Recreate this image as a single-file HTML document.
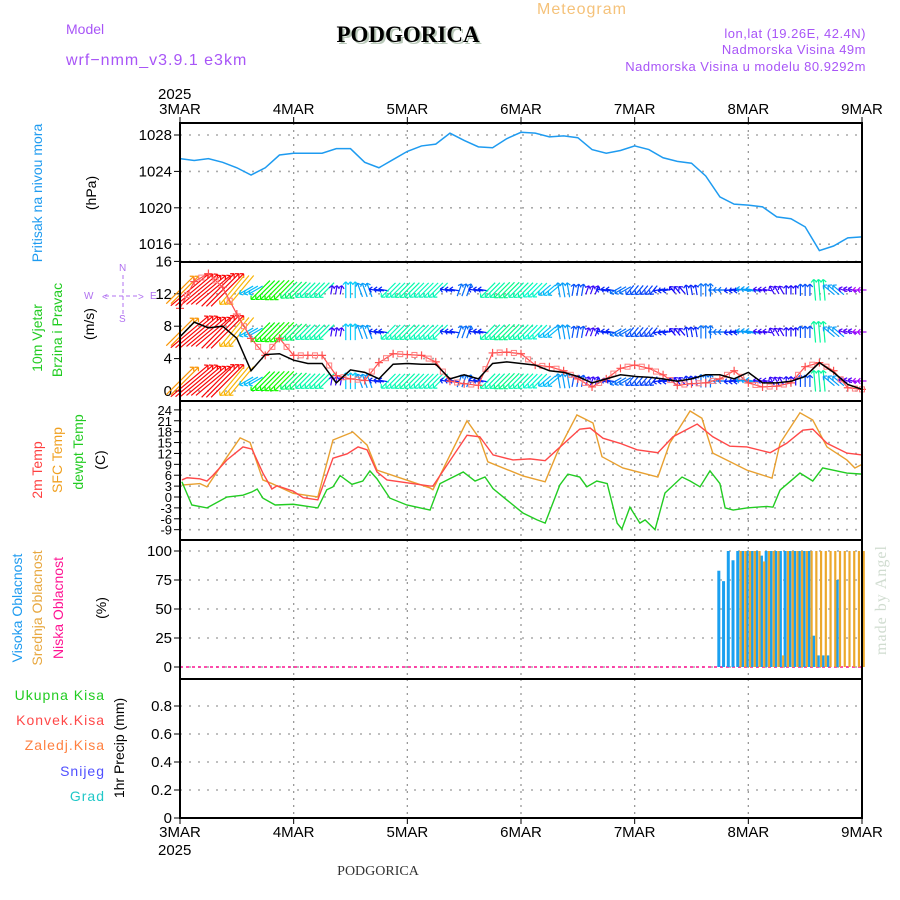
<!DOCTYPE html>
<html><head><meta charset="utf-8"><style>
html,body{margin:0;padding:0;background:#fff;width:900px;height:900px;overflow:hidden}
svg{display:block}
text{font-family:"Liberation Sans",sans-serif}
text.serif{font-family:"Liberation Serif",serif}
</style></head><body>
<svg id="chart" width="900" height="900" viewBox="0 0 900 900" xmlns="http://www.w3.org/2000/svg">
<g>
<text x="582" y="14" font-size="16" fill="#f5c27a" text-anchor="middle" letter-spacing="1">Meteogram</text>
<text x="66" y="34" font-size="14" fill="#a855f7">Model</text>
<text x="66" y="65" font-size="16" fill="#a855f7" letter-spacing="1">wrf−nmm_v3.9.1  e3km</text>
<text class="serif" x="410" y="44" font-size="23" font-weight="bold" fill="#b8c8b8" text-anchor="middle">PODGORICA</text>
<text class="serif" x="408" y="42" font-size="23" font-weight="bold" fill="#000" text-anchor="middle">PODGORICA</text>
<text x="866" y="38" font-size="13" fill="#a855f7" text-anchor="end" letter-spacing="0.5">lon,lat (19.26E, 42.4N)</text>
<text x="866" y="54" font-size="13" fill="#a855f7" text-anchor="end" letter-spacing="0.5">Nadmorska Visina 49m</text>
<text x="866" y="71" font-size="13" fill="#a855f7" text-anchor="end" letter-spacing="0.5">Nadmorska Visina u modelu 80.9292m</text>
<text class="serif" x="378" y="875" font-size="14" fill="#333" text-anchor="middle">PODGORICA</text>
<text class="serif" transform="translate(886,600) rotate(-90)" font-size="16" fill="#d0dcd0" text-anchor="middle" letter-spacing="1">made by Angel</text>
</g>
<g font-size="14">
<text transform="translate(42,193) rotate(-90)" fill="#1e9bf0" text-anchor="middle">Pritisak na nivou mora</text>
<text transform="translate(96,193) rotate(-90)" fill="#000" text-anchor="middle">(hPa)</text>
<text transform="translate(42,338) rotate(-90)" fill="#22cc22" text-anchor="middle">10m Vjetar</text>
<text transform="translate(62,330) rotate(-90)" fill="#22cc22" text-anchor="middle">Brzina i Pravac</text>
<text transform="translate(94,324) rotate(-90)" fill="#000" text-anchor="middle">(m/s)</text>
<g fill="#b070f0" stroke="#b070f0" font-size="10">
<line x1="105" y1="296" x2="140" y2="296" stroke-dasharray="4,3"/>
<line x1="123" y1="275" x2="123" y2="316" stroke-dasharray="4,3"/>
<text x="119" y="271" stroke="none">N</text><text x="119" y="322" stroke="none">S</text>
<text x="84" y="299" stroke="none">W</text><text x="150" y="299" stroke="none">E</text>
<text x="102" y="300" stroke="none">&lt;</text><text x="138" y="300" stroke="none">&gt;</text>
</g>
<text transform="translate(42,470) rotate(-90)" fill="#ff4040" text-anchor="middle">2m Temp</text>
<text transform="translate(62,460) rotate(-90)" fill="#f0a020" text-anchor="middle">SFC Temp</text>
<text transform="translate(83,452) rotate(-90)" fill="#22cc22" text-anchor="middle">dewpt Temp</text>
<text transform="translate(105,460) rotate(-90)" fill="#000" text-anchor="middle">(C)</text>
<text transform="translate(22,608) rotate(-90)" fill="#1e9bf0" text-anchor="middle">Visoka Oblacnost</text>
<text transform="translate(42,608) rotate(-90)" fill="#e8a840" text-anchor="middle">Srednja Oblacnost</text>
<text transform="translate(63,608) rotate(-90)" fill="#ff1493" text-anchor="middle">Niska Oblacnost</text>
<text transform="translate(106,608) rotate(-90)" fill="#000" text-anchor="middle">(%)</text>
<text x="105" y="700" fill="#22cc22" text-anchor="end" letter-spacing="1">Ukupna  Kisa</text>
<text x="105" y="725" fill="#ff4848" text-anchor="end" letter-spacing="1">Konvek.Kisa</text>
<text x="105" y="750" fill="#ff8040" text-anchor="end" letter-spacing="1">Zaledj.Kisa</text>
<text x="105" y="776" fill="#5050ff" text-anchor="end" letter-spacing="1">Snijeg</text>
<text x="105" y="801" fill="#20c8c8" text-anchor="end" letter-spacing="1">Grad</text>
<text transform="translate(124,748) rotate(-90)" fill="#000" text-anchor="middle">1hr Precip (mm)</text>
</g>
<g id="plot"></g>
</svg>
<script>
// ---- data ----
const dayLabels = ["3MAR","4MAR","5MAR","6MAR","7MAR","8MAR","9MAR"];
const pressure = [1025.4,1025.2,1025.4,1025.0,1024.4,1023.6,1024.4,1025.8,
 1026.0,1026.0,1026.0,1026.5,1026.5,1025.0,1024.4,1025.3,
 1026.2,1026.8,1027.0,1028.2,1027.4,1026.7,1026.6,1027.6,
 1028.3,1028.2,1027.8,1027.9,1027.7,1026.4,1026.0,1026.3,
 1026.8,1026.4,1025.5,1025.1,1024.9,1023.5,1021.2,1020.4,
 1020.3,1020.1,1019.0,1018.8,1017.9,1015.3,1015.8,1016.7,1016.8];
const windSpeed = [6.7,8.5,7.8,8.0,6.5,2.5,4.5,4.6,3.8,3.4,3.4,1.0,2.6,2.3,1.5,3.3,3.4,3.3,3.3,1.5,2.0,1.5,3.4,3.6,3.4,3.2,2.5,2.3,1.8,1.0,1.5,2.0,1.8,1.7,1.5,1.2,1.5,2.0,2.0,1.5,2.3,1.0,1.0,1.2,1.8,3.5,2.3,0.8,0.2];
const windGust = [10.2,13.5,14.5,12.8,9.5,6.5,4.4,6.5,4.4,4.4,4.4,1.9,1.5,1.3,3.5,4.6,4.5,4.4,3.6,1.2,0.9,0.7,4.7,4.8,4.6,3.2,3.0,2.5,1.5,0.5,1.5,2.8,3.2,2.8,2.0,0.7,0.9,1.0,1.5,2.5,1.0,0.5,0.6,1.0,3.0,3.5,2.5,0.4,0.2];
const windDir = [225,230,230,225,40,60,45,45,45,45,45,190,180,160,100,45,45,45,45,100,200,100,45,45,45,45,50,170,190,200,100,60,40,40,80,140,170,180,90,80,100,100,150,180,180,175,130,110,90];
const t2mHours = [0.4,1.5,4.2,5.7,6.9,9.9,13.3,15.2,17.5,19.4,20.5,23.9,26,29.1,32.3,35.3,37.6,39.5,41.6,43.7,52.8,53.4,60.6,63.3,66.1,70.3,73.9,77.1,79.6,84.4,86.6,89.3,92.9,96.5,100.9,104.1,109.2,112.5,116.1,119.7,124.6,128.1,131.5,133.6,136.6,140.8,144];
const t2m = [4.7,5.3,5,4.4,5.9,10.2,13.8,13.2,6.6,2.2,3.1,1.6,-0.2,-0.8,10.7,11.9,13.8,13,6.9,4.7,3,3,17,16.6,11.6,10.2,10.5,10,13,18.7,19,16.2,14.8,13,12.2,16.6,20.1,16.6,14,13.8,12.2,14.8,18.4,18.7,14.8,12.1,11.6];
const sfcHours = [0.4,4.2,5.7,9.9,12.7,14.8,17.5,19.4,23.9,29.1,32.3,36.5,39.5,41.6,52.8,53.4,60.6,63.3,65,72.4,77.1,79.6,83.8,87.2,89.1,93.5,100.9,103.4,107.7,110.2,112.5,119.7,125,126.7,130.9,133.6,136.6,140.8,142.5,144];
const sfcTemp = [3.3,3.7,2.8,11,16.3,15,4.7,3.7,1,0,15.7,17.9,14.3,7.4,2.5,2,21,16,9.7,5.8,4.2,12.1,22.6,20.4,11.1,8,5.5,14.8,23.7,21.7,12.1,7.4,5.2,14.8,23.2,21.2,13.8,10.2,8,9];
const dewHours = [0.4,2.5,5.7,9.9,13.3,15.2,16.3,17.5,20.1,23.9,29.1,31,32.3,33.8,36.3,38.6,40.1,41.6,44.3,47.9,52.8,54.9,59.8,62.3,64.4,66.1,69,72.4,75.4,77.1,80.2,81.9,84.4,85.9,88,90.2,92.3,93.3,95,97.1,98.2,100.3,102.4,106,107.7,109.8,111.9,114,115.1,116.8,119.7,123.9,125.2,126.7,130.9,133.6,135.7,140.8,144];
const dewTemp = [4.2,-2.2,-3,0,0.5,1.4,2.2,-0.3,-2.2,-2,-3,2,2.8,5.9,3.5,4.4,7.2,5,-0.3,-2.2,-3.6,3.7,6.9,4.4,5.5,2.3,-0.8,-4.4,-6.3,-7.2,3.3,6.3,5.5,2.8,4.4,3.7,-7.2,-8.8,-2.8,-7.2,-6.3,-9,1.1,5.5,4.4,2.8,7.2,3.7,-3,-3.6,-3,-2.6,-2.8,1.9,6.6,4.4,8,6.6,6.3];
const cloudStartHour = 113;
const highCloud = [0,83,74,100,92,100,100,100,100,100,96,100,100,100,100,100,100,100,100,100,100,27,10,10,10,0,75,0,0,0,0,0];
const midCloud  = [0,0,0,0,0,100,100,100,100,100,91,100,100,100,10,100,100,100,100,100,100,100,100,100,100,100,100,100,100,100,100,100];
const pTicks = [1016,1020,1024,1028];
const wTicks = [0,4,8,12,16];
const tTicks = [-9,-6,-3,0,3,6,9,12,15,18,21,24];
const cTicks = [0,25,50,75,100];
const rTicks = [0,0.2,0.4,0.6,0.8];

// ---- scales ----
const X0=180, X1=862;
const xH = h => X0 + h*(X1-X0)/144;
const yP = v => 135 + (1028-v)*9.1;
const yW = v => 391 - v*8.1;
const yT = v => 497 - v*3.63;
const yC = v => 667 - v*1.16;
const yR = v => 818 - v*140;
const panels = [[123,262,'pressure-panel'],[262,401,'wind-panel'],[401,540,'temp-panel'],[540,679,'cloud-panel'],[679,818,'precip-panel']];

const NS="http://www.w3.org/2000/svg";
const plot=document.getElementById('plot');
function mk(tag,attrs,parent){const e=document.createElementNS(NS,tag);for(const k in attrs)e.setAttribute(k,attrs[k]);(parent||plot).appendChild(e);return e;}

// grids
panels.forEach(p=>{
  const g=mk('g',{});
  
  
  for(let d=1;d<6;d++){mk('line',{x1:xH(d*24),x2:xH(d*24),y1:p[0],y2:p[1],stroke:'#999','stroke-dasharray':'2,5','stroke-width':1.3},g);}
});
function hgrid(ticks,sc,fmt,name){
  const g=mk('g',{});
  
  
  ticks.forEach(t=>{
    const y=sc(t);
    mk('line',{x1:X0,x2:X1,y1:y,y2:y,stroke:'#aaa','stroke-dasharray':'2,7','stroke-width':1.6},g);
    mk('line',{x1:X0-6,x2:X0,y1:y,y2:y,stroke:'#000','stroke-width':1},g);
    const tx=mk('text',{x:X0-8,y:y+5,'font-size':name==='temp-ticks'?13:15,'text-anchor':'end',fill:'#000'},g);
    tx.textContent=fmt(t);
  });
}
hgrid(pTicks,yP,String,'pressure-ticks');
hgrid(wTicks,yW,String,'wind-ticks');
hgrid(tTicks,yT,String,'temp-ticks');
hgrid(cTicks,yC,String,'cloud-ticks');
hgrid(rTicks,yR,v=>v===0?'0':v.toFixed(1),'precip-ticks');

// pressure line
const pl=mk('polyline',{points:pressure.map((v,i)=>xH(i*3)+','+yP(v)).join(' '),fill:'none',stroke:'#1e9bf0','stroke-width':1.5});



// wind arrows (hourly, value of nearest 3h sample)
const rowsY=[290,332,381];
const wg=mk('g',{});


for(let h=0;h<=144;h++){
  const i=Math.min(48,Math.round(h/3));
  const s=windSpeed[i], th=windDir[i]*Math.PI/180;
  const L=Math.max(9,5.5*s+2);
  const dx=-Math.sin(th)*L, dy=Math.cos(th)*L;
  const hue=Math.max(0,Math.min(280,290-s*38));
  const col='hsl('+hue+',95%,50%)';
  rowsY.forEach(ry=>{
    const x0=xH(h)-dx/2,y0=ry-dy/2,x1=x0+dx,y1=y0+dy;
    mk('line',{x1:x0,y1:y0,x2:x1,y2:y1,stroke:col,'stroke-width':1.2},wg);
    const a=Math.atan2(dy,dx);
    [2.6,-2.6].forEach(o=>mk('line',{x1:x1,y1:y1,x2:x1-4*Math.cos(a+o*0.3),y2:y1-4*Math.sin(a+o*0.3),stroke:col,'stroke-width':1.2},wg));
  });
}
// gust line
const gl=mk('polyline',{points:windGust.map((v,i)=>xH(i*3)+','+yW(v)).join(' '),fill:'none',stroke:'#ff5050','stroke-width':1.2});


const gm=mk('g',{});


windGust.forEach((v,i)=>{
  for(let k=0;k<2;k++){
    const j=Math.min(48,i+k/2), vv=k===0?v:(v+windGust[Math.min(48,i+1)])/2;
    const x=xH(j*3),y=yW(vv);
    if(k===0) mk('path',{d:`M${x-4},${y}H${x+4}M${x},${y-4}V${y+4}`,stroke:'#ff5050','stroke-width':1.2},gm);
    else mk('rect',{x:x-2.5,y:y-2.5,width:5,height:5,fill:'none',stroke:'#ff8080','stroke-width':1},gm);
  }
});
const sl=mk('polyline',{points:windSpeed.map((v,i)=>xH(i*3)+','+yW(v)).join(' '),fill:'none',stroke:'#000','stroke-width':1.5});



// temperatures
function tline(hs,vs,col,name){
  const e=mk('polyline',{points:vs.map((v,i)=>xH(hs[i])+','+yT(v)).join(' '),fill:'none',stroke:col,'stroke-width':1.4});
  
  
}
tline(sfcHours,sfcTemp,'#e8a030','sfc-temp-line');
tline(t2mHours,t2m,'#ff4848','t2m-line');
tline(dewHours,dewTemp,'#22cc22','dewpoint-line');

// clouds
const zl=mk('line',{x1:X0,x2:X1,y1:yC(0),y2:yC(0),stroke:'#ff1493','stroke-width':1.5,'stroke-dasharray':'3,3'});


const cg=mk('g',{});


highCloud.forEach((v,i)=>{
  if(v<=0)return;
  const x=xH(cloudStartHour+i);
  const r=mk('rect',{x:x-2.6,y:yC(v),width:3,height:yC(0)-yC(v),fill:'#1aa0f0'},cg);
  
});
midCloud.forEach((v,i)=>{
  if(v<=0)return;
  const x=xH(cloudStartHour+i);
  const r=mk('rect',{x:x+0.6,y:yC(v),width:2.2,height:yC(0)-yC(v),fill:'#eca82c'},cg);
  
});

// frames
panels.forEach(p=>{
  const r=mk('rect',{x:X0,y:p[0],width:X1-X0,height:p[1]-p[0],fill:'none',stroke:'#000','stroke-width':2});
  
  
});
// x axis labels
const xa=mk('g',{'font-size':15,fill:'#000'});


dayLabels.forEach((d,i)=>{
  const x=xH(i*24);
  mk('line',{x1:x,x2:x,y1:117,y2:123,stroke:'#000'},xa);
  mk('line',{x1:x,x2:x,y1:818,y2:824,stroke:'#000'},xa);
  const t1=mk('text',{x:x,y:114,'text-anchor':'middle'},xa); t1.textContent=d;
  const t2=mk('text',{x:x,y:837,'text-anchor':'middle'},xa); t2.textContent=d;
});
const y1=mk('text',{x:158,y:99,'font-size':15},xa); y1.textContent='2025';
const y2=mk('text',{x:158,y:855,'font-size':15},xa); y2.textContent='2025';
</script>
</body></html>
